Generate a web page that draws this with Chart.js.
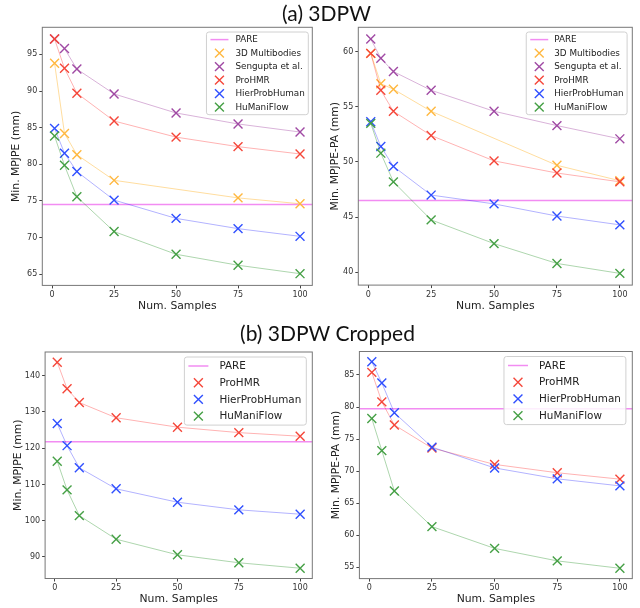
<!DOCTYPE html>
<html><head><meta charset="utf-8">
<script src="https://cdn.jsdelivr.net/npm/chart.js@4.4.0/dist/chart.umd.min.js"></script>
<style>
html,body{margin:0;padding:0;background:#fff;}
#wrap{position:relative;width:640px;height:608px;overflow:hidden;background:#fff;}
canvas{position:absolute;}
.ttl{position:absolute;z-index:5;font-family:Lato,'Open Sans',sans-serif;font-size:21px;color:#111;text-align:center;width:300px;height:24px;line-height:24px;white-space:nowrap;}
</style></head><body>
<div id="wrap">
<div class="ttl" style="left:176.5px;top:0.5px">(a) 3DPW</div>
<div class="ttl" style="left:177.5px;top:320.5px">(b) 3DPW Cropped</div>
<canvas id="k1" width="320" height="314" style="left:0;top:0"></canvas>
<canvas id="k2" width="320" height="314" style="left:320px;top:0"></canvas>
<canvas id="k3" width="320" height="294" style="left:0;top:314px"></canvas>
<canvas id="k4" width="320" height="294" style="left:320px;top:314px"></canvas>
</div>
<script>
// ---------- data ----------
const samples = [1, 5, 10, 25, 50, 75, 100];
const samplesMB = [1, 5, 10, 25, 75, 100];
const xTicks = [0, 25, 50, 75, 100];

// (a) 3DPW - Min. MPJPE
const pareMPJPE = 74.5;
const mbMPJPE = [93.8, 84.2, 81.3, 77.8, 75.4, 74.6];
const sengMPJPE = [97.1, 95.8, 93.0, 89.6, 87.0, 85.5, 84.4];
const prohmrMPJPE = [97.1, 93.1, 89.7, 85.9, 83.7, 82.4, 81.4];
const hierMPJPE = [84.9, 81.5, 79.0, 75.1, 72.6, 71.2, 70.15];
const humaniMPJPE = [83.85, 79.85, 75.55, 70.8, 67.7, 66.2, 65.05];
const yTicks1 = [65, 70, 75, 80, 85, 90, 95];

// (a) 3DPW - Min. MPJPE-PA
const parePA = 46.5;
const mbPA = [59.85, 57.1, 56.6, 54.6, 49.7, 48.3];
const sengPA = [61.15, 59.4, 58.2, 56.5, 54.6, 53.3, 52.1];
const prohmrPA = [59.85, 56.5, 54.6, 52.4, 50.1, 49.0, 48.2];
const hierPA = [53.65, 51.4, 49.6, 47.0, 46.2, 45.1, 44.3];
const humaniPA = [53.5, 50.8, 48.2, 44.75, 42.6, 40.8, 39.9];
const yTicks2 = [40, 45, 50, 55, 60];

// (b) 3DPW Cropped - Min. MPJPE
const pareCropMPJPE = 121.8;
const prohmrCropMPJPE = [143.7, 136.4, 132.6, 128.4, 125.8, 124.3, 123.3];
const hierCropMPJPE = [126.8, 120.7, 114.6, 108.8, 105.1, 103.0, 101.8];
const humaniCropMPJPE = [116.4, 108.5, 101.4, 94.9, 90.6, 88.4, 86.9];
const yTicks3 = [90, 100, 110, 120, 130, 140];

// (b) 3DPW Cropped - Min. MPJPE-PA
const pareCropPA = 79.75;
const prohmrCropPA = [85.4, 80.8, 77.2, 73.6, 71.05, 69.75, 68.75];
const hierCropPA = [87.05, 83.75, 79.1, 73.75, 70.5, 68.8, 67.7];
const humaniCropPA = [78.2, 73.2, 66.9, 61.35, 57.95, 56.0, 54.85];
const yTicks4 = [55, 60, 65, 70, 75, 80, 85];

// ---------- styles ----------
const FONT = "'DejaVu Sans', 'Liberation Sans', sans-serif";
const COL = {
  mb:     {mark: '#FFB840', line: 'rgba(255,165,0,0.38)'},
  seng:   {mark: '#A04AA4', line: 'rgba(128,0,128,0.30)'},
  prohmr: {mark: '#F5473A', line: 'rgba(255,0,0,0.30)'},
  hier:   {mark: '#3050FF', line: 'rgba(0,0,255,0.30)'},
  humani: {mark: '#46A046', line: 'rgba(0,128,0,0.32)'},
  pare: '#F28CF2'
};

function pts(xs, ys) { return xs.map((x, i) => ({x: x, y: ys[i]})); }

const parePlugin = {
  id: 'pareLine',
  beforeDatasetsDraw(chart, args, o) {
    const ca = chart.chartArea, y = chart.scales.y.getPixelForValue(o.value);
    const ctx = chart.ctx;
    ctx.save();
    ctx.strokeStyle = COL.pare; ctx.lineWidth = 1.5;
    ctx.beginPath(); ctx.moveTo(ca.left, y); ctx.lineTo(ca.right, y); ctx.stroke();
    ctx.restore();
  }
};

const framePlugin = {
  id: 'frame',
  afterDatasetsDraw(chart) {
    const ca = chart.chartArea, ctx = chart.ctx;
    ctx.save();
    ctx.strokeStyle = '#777'; ctx.lineWidth = 1;
    ctx.strokeRect(ca.left, ca.top, ca.right - ca.left, ca.bottom - ca.top);
    ctx.restore();
  }
};

function drawX(ctx, x, y, r, color) {
  const d = r * 0.7071;
  ctx.save();
  ctx.strokeStyle = color; ctx.lineWidth = 1.4;
  ctx.beginPath();
  ctx.moveTo(x - d, y - d); ctx.lineTo(x + d, y + d);
  ctx.moveTo(x - d, y + d); ctx.lineTo(x + d, y - d);
  ctx.stroke();
  ctx.restore();
}

const legendPlugin = {
  id: 'boxLegend',
  afterDraw(chart, args, o) {
    const ctx = chart.ctx, ca = chart.chartArea;
    const items = o.items;
    ctx.save();
    ctx.font = o.fontSize + 'px ' + FONT;
    let maxW = 0;
    items.forEach(it => { maxW = Math.max(maxW, ctx.measureText(it.label).width); });
    const w = o.textX + maxW + o.padR;
    const h = 2 * o.padV + o.rowH * (items.length - 1);
    const bx = ca.right - o.insetR - w, by = ca.top + o.insetT;
    ctx.fillStyle = 'rgba(255,255,255,0.85)';
    ctx.strokeStyle = '#d0d0d0'; ctx.lineWidth = 1;
    ctx.beginPath();
    if (ctx.roundRect) ctx.roundRect(bx, by, w, h, 2.5); else ctx.rect(bx, by, w, h);
    ctx.fill(); ctx.stroke();
    items.forEach((it, i) => {
      const cy = by + o.padV + i * o.rowH;
      if (it.type === 'line') {
        ctx.strokeStyle = it.color; ctx.lineWidth = 1.5;
        ctx.beginPath(); ctx.moveTo(bx + o.lineX0, cy); ctx.lineTo(bx + o.lineX1, cy); ctx.stroke();
      } else {
        drawX(ctx, bx + o.markX, cy, 6.3, it.color);
      }
      ctx.fillStyle = '#222';
      ctx.textBaseline = 'middle'; ctx.textAlign = 'left';
      ctx.fillText(it.label, bx + o.textX, cy + 0.5);
    });
    ctx.restore();
  }
};

function makeChart(id, series, pare, yTicks, yTitle, g, lg) {
  const allY = [pare];
  let allX = [];
  series.forEach(s => { allY.push(...s.ys); allX.push(...s.xs); });
  const ymin = Math.min(...allY), ymax = Math.max(...allY);
  const xmin = Math.min(...allX), xmax = Math.max(...allX);
  const ym = (ymax - ymin) * 0.05, xm = (xmax - xmin) * 0.05;
  const n = series.length;
  const datasets = series.map((s, i) => ({
    label: s.label,
    data: pts(s.xs, s.ys),
    borderColor: s.col.line,
    backgroundColor: s.col.mark,
    borderWidth: 1,
    pointStyle: 'crossRot',
    pointRadius: 6.3,
    pointHoverRadius: 6.3,
    pointBorderColor: s.col.mark,
    pointBorderWidth: 1.4,
    tension: 0,
    fill: false,
    clip: 8,
    order: n - i
  }));
  const legendItems = [{label: 'PARE', type: 'line', color: COL.pare}]
    .concat(series.map(s => ({label: s.label, type: 'marker', color: s.col.mark})));
  return new Chart(document.getElementById(id), {
    type: 'line',
    data: {datasets: datasets},
    options: {
      responsive: false,
      animation: false,
      devicePixelRatio: 1,
      layout: {padding: {top: g.pt, right: g.pr, left: 0, bottom: 0}},
      plugins: {
        legend: {display: false},
        tooltip: {enabled: false},
        pareLine: {value: pare},
        boxLegend: Object.assign({items: legendItems}, lg)
      },
      scales: {
        x: {
          type: 'linear', min: xmin - xm, max: xmax + xm,
          afterBuildTicks: s => { s.ticks = xTicks.map(v => ({value: v})); },
          afterFit: s => { s.height = g.xH; },
          ticks: {font: {family: FONT, size: 8}, color: '#333', padding: 2, maxRotation: 0, autoSkip: false},
          grid: {drawOnChartArea: false, drawTicks: true, tickLength: 3, color: '#444'},
          border: {display: false},
          title: {display: true, text: 'Num. Samples', font: {family: FONT, size: 10.8}, color: '#222',
                  padding: {top: 0, bottom: g.xtPad}}
        },
        y: {
          type: 'linear', min: ymin - ym, max: ymax + ym,
          afterBuildTicks: s => { s.ticks = yTicks.map(v => ({value: v})); },
          afterFit: s => { s.width = g.yW; },
          ticks: {font: {family: FONT, size: 8}, color: '#333', padding: 2, autoSkip: false},
          grid: {drawOnChartArea: false, drawTicks: true, tickLength: 3, color: '#444'},
          border: {display: false},
          title: {display: true, text: yTitle, font: {family: FONT, size: 10.8}, color: '#222',
                  padding: {top: g.ytPad, bottom: 0}}
        }
      }
    },
    plugins: [parePlugin, framePlugin, legendPlugin]
  });
}

const lgTop = {fontSize: 8.8, rowH: 13.5, padV: 7.6, markX: 13, lineX0: 4, lineX1: 22, textX: 29, padR: 3.5, insetR: 4, insetT: 4.7};
const lgBot = {fontSize: 10.4, rowH: 16.7, padV: 9, markX: 14, lineX0: 4, lineX1: 24, textX: 35, padR: 5, insetR: 6, insetT: 5};

makeChart('k1', [
  {label: '3D Multibodies', xs: samplesMB, ys: mbMPJPE, col: COL.mb},
  {label: 'Sengupta et al.', xs: samples, ys: sengMPJPE, col: COL.seng},
  {label: 'ProHMR', xs: samples, ys: prohmrMPJPE, col: COL.prohmr},
  {label: 'HierProbHuman', xs: samples, ys: hierMPJPE, col: COL.hier},
  {label: 'HuManiFlow', xs: samples, ys: humaniMPJPE, col: COL.humani}
], pareMPJPE, yTicks1, 'Min. MPJPE (mm)',
  {pt: 27.3, pr: 3.3, yW: 42.3, xH: 28.6, xtPad: 1.7, ytPad: 10.2}, lgTop);

makeChart('k2', [
  {label: '3D Multibodies', xs: samplesMB, ys: mbPA, col: COL.mb},
  {label: 'Sengupta et al.', xs: samples, ys: sengPA, col: COL.seng},
  {label: 'ProHMR', xs: samples, ys: prohmrPA, col: COL.prohmr},
  {label: 'HierProbHuman', xs: samples, ys: hierPA, col: COL.hier},
  {label: 'HuManiFlow', xs: samples, ys: humaniPA, col: COL.humani}
], parePA, yTicks2, 'Min. MPJPE-PA (mm)',
  {pt: 27.3, pr: 6.8, yW: 38.3, xH: 28.9, xtPad: 1.7, ytPad: 9.2},
  Object.assign({}, lgTop, {insetR: 5.2, textX: 28}));

makeChart('k3', [
  {label: 'ProHMR', xs: samples, ys: prohmrCropMPJPE, col: COL.prohmr},
  {label: 'HierProbHuman', xs: samples, ys: hierCropMPJPE, col: COL.hier},
  {label: 'HuManiFlow', xs: samples, ys: humaniCropMPJPE, col: COL.humani}
], pareCropMPJPE, yTicks3, 'Min. MPJPE (mm)',
  {pt: 38, pr: 1.5, yW: 45.1, xH: 29.5, xtPad: 2.7, ytPad: 11.7}, lgBot);

makeChart('k4', [
  {label: 'ProHMR', xs: samples, ys: prohmrCropPA, col: COL.prohmr},
  {label: 'HierProbHuman', xs: samples, ys: hierCropPA, col: COL.hier},
  {label: 'HuManiFlow', xs: samples, ys: humaniCropPA, col: COL.humani}
], pareCropPA, yTicks4, 'Min. MPJPE-PA (mm)',
  {pt: 37.5, pr: 6.6, yW: 39.4, xH: 29.4, xtPad: 2.7, ytPad: 9.5},
  Object.assign({}, lgBot, {insetR: 6.4}));
</script>
</body></html>
